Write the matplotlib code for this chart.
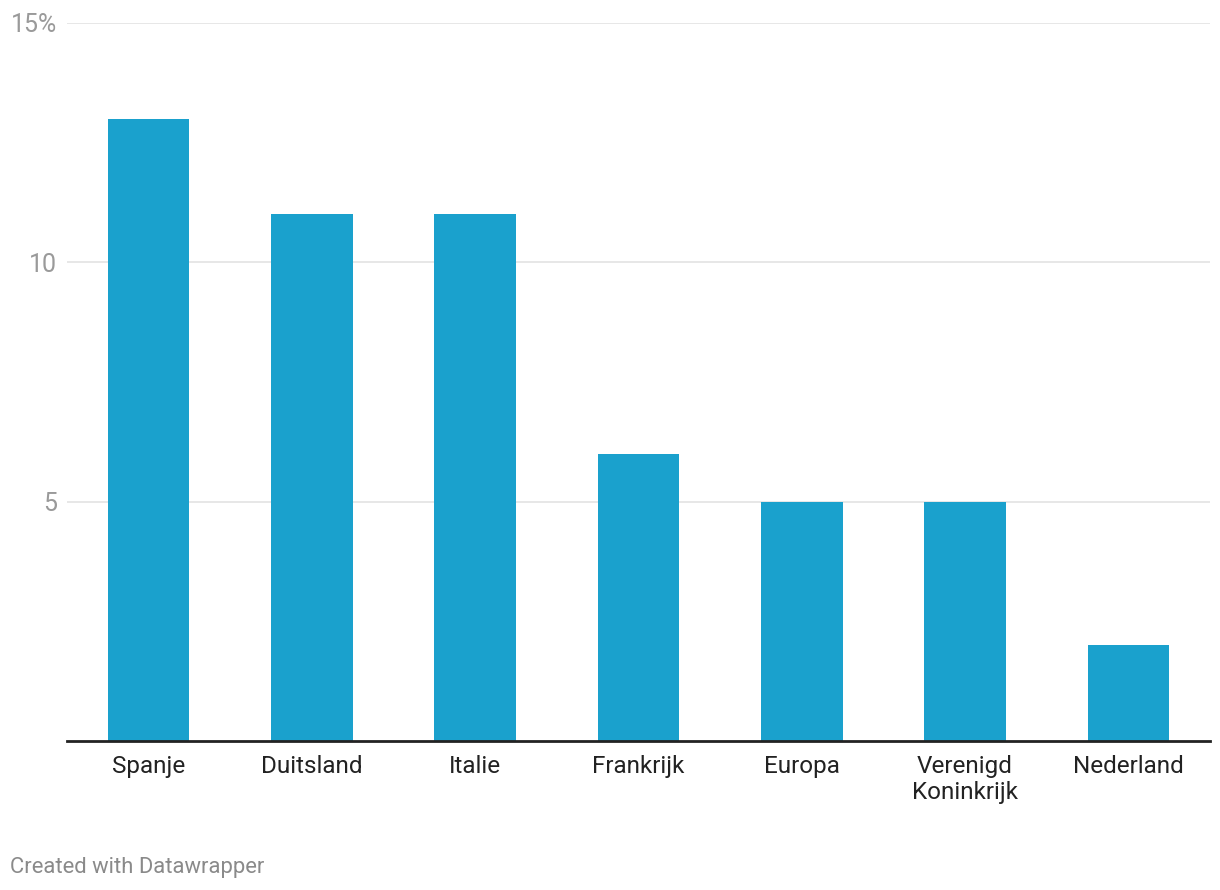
import matplotlib
matplotlib.use("Agg")
import matplotlib.pyplot as plt
import numpy as np

plt.rcParams['font.family'] = ['Roboto', 'DejaVu Sans']

countries = ["Spanje", "Duitsland", "Italie", "Frankrijk", "Europa",
             "Verenigd\nKoninkrijk", "Nederland"]
values = [13, 11, 11, 6, 5, 5, 2]
yticks = [5, 10, 15]
ytick_labels = ["5", "10", "15%"]

fig = plt.figure(figsize=(12.2, 8.9), dpi=100)
ax = fig.add_axes([67 / 1220, 1 - 741 / 890, (1210 - 67) / 1220, (741 - 23) / 890])

x = np.arange(len(countries))
ax.bar(x, values, width=0.5, color="#1aa1cd", zorder=2)

ax.set_xlim(-0.5, len(countries) - 0.5)
ax.set_ylim(0, 15)
ax.set_yticks(yticks)
ax.set_yticklabels(ytick_labels)
ax.set_xticks(x)
ax.set_xticklabels(countries, linespacing=1.2)

ax.grid(axis="y", color="#e0e0e0", linewidth=1.1, zorder=0)
for s in ["top", "right", "left"]:
    ax.spines[s].set_visible(False)
ax.spines["bottom"].set_color("#222222")
ax.spines["bottom"].set_linewidth(2)
ax.spines["bottom"].set_zorder(3)

ax.tick_params(axis="y", length=0, pad=7, labelsize=18, labelcolor="#9a9a9a")
ax.tick_params(axis="x", length=0, pad=10, labelsize=17.5, labelcolor="#222222")

fig.text(10 / 1220, 1 - 868 / 890, "Created with Datawrapper", fontsize=15.8,
         color="#8a8a8a", ha="left", va="center")

fig.savefig("out.png", dpi=100)
